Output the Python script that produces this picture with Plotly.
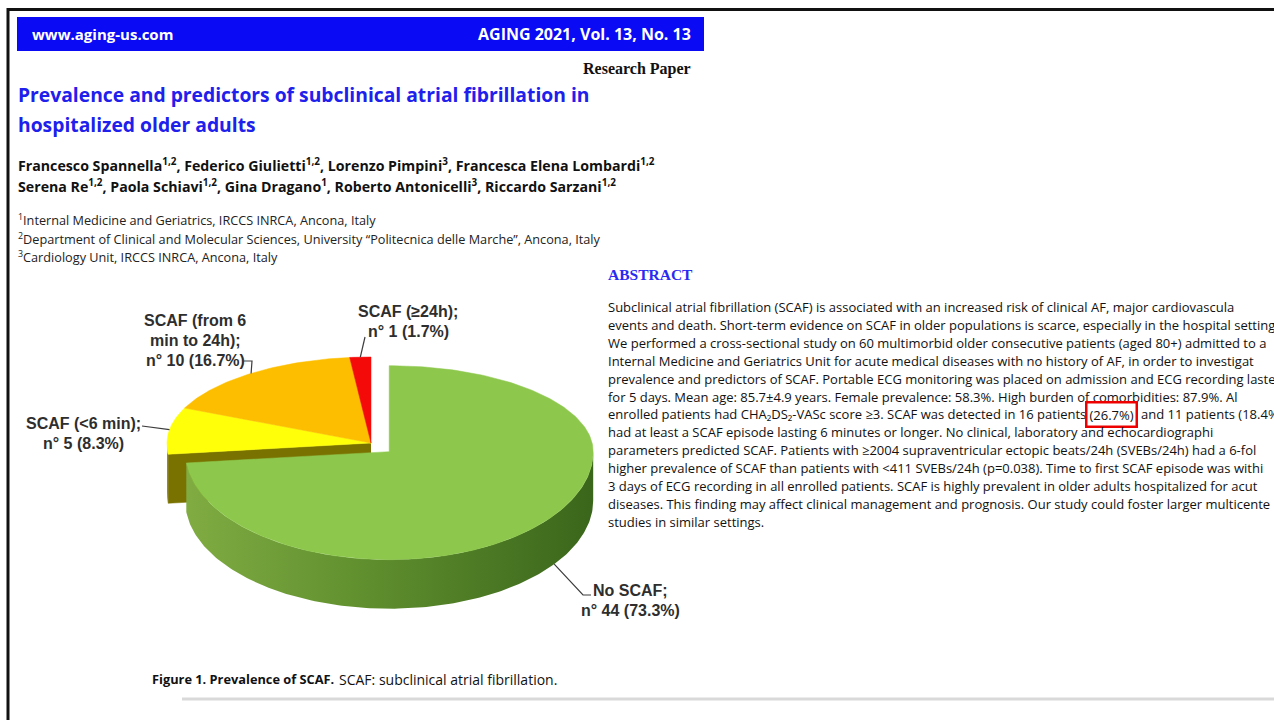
import numpy as np
import plotly.graph_objects as go

# ---------------- data ----------------
slice_names = ["No SCAF", "SCAF (<6 min)", "SCAF (from 6 min to 24h)", "SCAF (≥24h)"]
slice_counts = [44, 5, 10, 1]
slice_percents = [73.3, 8.3, 16.7, 1.7]
slice_label_heads = [["No SCAF;"], ["SCAF (<6 min);"], ["SCAF (from 6", "min to 24h);"], ["SCAF (≥24h);"]]

header_left = "www.aging-us.com"
header_right = "AGING 2021, Vol. 13, No. 13"
paper_type = "Research Paper"
title_lines = ["Prevalence and predictors of subclinical atrial fibrillation in",
               "hospitalized older adults"]
author_lines = [
    "Francesco Spannella<sup>1,2</sup>, Federico Giulietti<sup>1,2</sup>, Lorenzo Pimpini<sup>3</sup>, Francesca Elena Lombardi<sup>1,2</sup>",
    "Serena Re<sup>1,2</sup>, Paola Schiavi<sup>1,2</sup>, Gina Dragano<sup>1</sup>, Roberto Antonicelli<sup>3</sup>, Riccardo Sarzani<sup>1,2</sup>",
]
affiliation_lines = [
    "<sup>1</sup>Internal Medicine and Geriatrics, IRCCS INRCA, Ancona, Italy",
    "<sup>2</sup>Department of Clinical and Molecular Sciences, University “Politecnica delle Marche”, Ancona, Italy",
    "<sup>3</sup>Cardiology Unit, IRCCS INRCA, Ancona, Italy",
]
abstract_heading = "ABSTRACT"
abstract_lines = [
    "Subclinical atrial fibrillation (SCAF) is associated with an increased risk of clinical AF, major cardiovascula",
    "events and death. Short-term evidence on SCAF in older populations is scarce, especially in the hospital setting",
    "We performed a cross-sectional study on 60 multimorbid older consecutive patients (aged 80+) admitted to a",
    "Internal Medicine and Geriatrics Unit for acute medical diseases with no history of AF, in order to investigat",
    "prevalence and predictors of SCAF. Portable ECG monitoring was placed on admission and ECG recording laste",
    "for 5 days. Mean age: 85.7±4.9 years. Female prevalence: 58.3%. High burden of comorbidities: 87.9%. Al",
    None,
    "had at least a SCAF episode lasting 6 minutes or longer. No clinical, laboratory and echocardiographi",
    "parameters predicted SCAF. Patients with ≥2004 supraventricular ectopic beats/24h (SVEBs/24h) had a 6-fol",
    "higher prevalence of SCAF than patients with <411 SVEBs/24h (p=0.038). Time to first SCAF episode was withi",
    "3 days of ECG recording in all enrolled patients. SCAF is highly prevalent in older adults hospitalized for acut",
    "diseases. This finding may affect clinical management and prognosis. Our study could foster larger multicente",
    "studies in similar settings.",
]
highlight_before = "enrolled patients had CHA₂DS₂-VASc score ≥3. SCAF was detected in 16 patients"
highlight_text = "(26.7%)"
highlight_after = "and 11 patients (18.4%"
caption_bold = "Figure 1. Prevalence of SCAF."
caption_rest = "SCAF: subclinical atrial fibrillation."

# ---------------- style / geometry ----------------
W, H = 1274, 720
CX, CY = 371.0, 443.0
RX, RY_TOP, RY_BOT, DEPTH = 204.0, 86.0, 108.0, 49.0
EXPLODE = [0.12, 0.0, 0.0, 0.0]
TOP_COLORS = ["#8DC84C", "#FFFF0A", "#FDBE00", "#F50A0A"]
WALL_COLORS = [("#80AC42", "#3A661B"), ("#A09C00", "#858000"), ("#B07F00", "#9A6E00"), ("#A00000", "#800000")]
FACE_COLORS = ["#4E7A22", "#7A7200", "#A87000", "#900000"]
LEADER_COLOR = "#3c3c3c"
LABEL_FONT = dict(family="Liberation Sans, Arial", size=16, color="#2e2e2e", weight="bold")
SANS = "Open Sans, sans-serif"
SERIF = "Liberation Serif, Times New Roman, serif"

fig = go.Figure()


def pt(theta, ox, oy, z=0.0):
    t = np.radians(theta)
    s = np.sin(t)
    ry = RY_TOP if s > 0 else RY_BOT
    return CX + ox + RX * np.cos(t), CY + oy - ry * s + z


def arc(t1, t2, ox, oy, z=0.0):
    n = max(2, int(abs(t2 - t1) / 1.0) + 2)
    pts = [pt(t, ox, oy, z) for t in np.linspace(t1, t2, n)]
    return [p[0] for p in pts], [p[1] for p in pts]


def add_poly(xs, ys, color, lw=0.6, gradient=None):
    kw = {}
    if gradient is not None:
        kw["fillgradient"] = gradient
    fig.add_trace(go.Scatter(x=list(xs), y=list(ys), fill="toself", fillcolor=color, mode="lines",
                             line=dict(color=color, width=lw), hoverinfo="skip", showlegend=False, **kw))


total = float(sum(slice_counts))
cum = np.concatenate([[0.0], np.cumsum(slice_counts) / total])
t_start = [90.0 - 360.0 * cum[i] for i in range(len(slice_counts))]
t_end = [90.0 - 360.0 * cum[i + 1] for i in range(len(slice_counts))]
mids = [(a + b) / 2 for a, b in zip(t_start, t_end)]
offsets = []
for i, m in enumerate(mids):
    r = np.radians(m)
    s = np.sin(r)
    ry = RY_TOP if s > 0 else RY_BOT
    offsets.append((EXPLODE[i] * RX * np.cos(r), -EXPLODE[i] * ry * s))

n = len(slice_counts)


def draw_slice(i):
    ox, oy = offsets[i]
    a, b = t_end[i], t_start[i]
    # outer wall (front-facing part), horizontal shading
    for k in (-1, 0, 1):
        lo, hi = max(a, -180 + 360 * k), min(b, 360 * k)
        if hi > lo:
            xt, yt = arc(lo, hi, ox, oy, 0)
            xb, yb = arc(hi, lo, ox, oy, DEPTH)
            c1, c2 = WALL_COLORS[i]
            grad = dict(type="horizontal", start=CX + ox - RX, stop=CX + ox + RX,
                        colorscale=[[0, c1], [0.45, c1 if i else "#5F8E2E"], [1, c2]])
            add_poly(xt + xb, yt + yb, c2, lw=0, gradient=grad)
    # radial faces next to an exploded gap
    for edge, nb, sign in ((b, (i - 1) % n, -1), (a, (i + 1) % n, 1)):
        if EXPLODE[i] == EXPLODE[nb]:
            continue
        c = np.cos(np.radians(edge))
        visible = (sign == -1 and c < -1e-6) or (sign == 1 and c > 1e-6)
        if visible:
            x1, y1 = pt(edge, ox, oy, 0)
            x2, y2 = pt(edge, ox, oy, DEPTH)
            ax, ay = CX + ox, CY + oy
            add_poly([ax, x1, x2, ax], [ay, y1, y2, ay + DEPTH], FACE_COLORS[i], lw=0.5)
    # top face
    xs, ys = arc(b, a, ox, oy, 0)
    add_poly([CX + ox] + xs + [CX + ox], [CY + oy] + ys + [CY + oy], TOP_COLORS[i], lw=0.5)


order = [i for i in range(n) if EXPLODE[i] == 0] + [i for i in range(n) if EXPLODE[i] != 0]
for i in order:
    draw_slice(i)

# ---------------- slice labels with leader lines ----------------
label_x = [630, 83, 195, 408]
label_first_y = [590, 423, 320, 311]
LABEL_LINE_GAP = 20
leader_mid = [(583, 595), (142, 426), (252, 361), (365, 337)]
leader_end = [(591, 595), None, (244, 361), None]
for i in range(n):
    ox, oy = offsets[i]
    m = mids[i] + (6 if EXPLODE[i] else 0)
    z = DEPTH if np.sin(np.radians(m)) < 0 else 0
    ax, ay = pt(m, ox, oy, z)
    xs, ys = [ax, leader_mid[i][0]], [ay, leader_mid[i][1]]
    if leader_end[i] is not None:
        xs.append(leader_end[i][0]); ys.append(leader_end[i][1])
    fig.add_trace(go.Scatter(x=xs, y=ys, mode="lines", line=dict(color=LEADER_COLOR, width=1.2),
                             hoverinfo="skip", showlegend=False))
    lines = slice_label_heads[i] + [f"n° {slice_counts[i]} ({slice_percents[i]}%)"]
    for j, line in enumerate(lines):
        fig.add_annotation(x=label_x[i], y=label_first_y[i] + LABEL_LINE_GAP * j, text=line,
                           showarrow=False, xanchor="center", yanchor="middle", font=LABEL_FONT)

# ---------------- page texts ----------------
anns = []
anns.append(dict(x=30, y=34, text=header_left, xanchor="left",
                 font=dict(family=SANS, size=15, color="white", weight="bold")))
anns.append(dict(x=693, y=34, text=header_right, xanchor="right",
                 font=dict(family=SANS, size=16, color="white", weight="bold")))
anns.append(dict(x=693, y=69, text=paper_type, xanchor="right",
                 font=dict(family=SERIF, size=16, color="#111111", weight="bold")))
for k, t in enumerate(title_lines):
    anns.append(dict(x=16, y=94 + 30 * k, text=t, xanchor="left",
                     font=dict(family=SANS, size=19.3, color="#2020EC", weight="bold")))
for k, t in enumerate(author_lines):
    anns.append(dict(x=16, y=164 + 21 * k, text=t, xanchor="left",
                     font=dict(family=SANS, size=14.2, color="#111111", weight="bold")))
for k, t in enumerate(affiliation_lines):
    anns.append(dict(x=16, y=220 + 18.5 * k, text=t, xanchor="left",
                     font=dict(family=SANS, size=12.7, color="#222222")))
anns.append(dict(x=606, y=274, text=abstract_heading, xanchor="left",
                 font=dict(family=SERIF, size=15.5, color="#2a2af0", weight="bold")))
ABS_FONT = dict(family=SANS, size=13, color="#111111")
for k, t in enumerate(abstract_lines):
    y = 307 + 17.9 * k
    if t is None:
        anns.append(dict(x=606, y=y, text=highlight_before, xanchor="left", font=ABS_FONT))
        anns.append(dict(x=1111, y=y, text=highlight_text, xanchor="center", font=ABS_FONT,
                         bordercolor="#EE0000", borderwidth=2.5, borderpad=2))
        anns.append(dict(x=1139, y=y, text=highlight_after, xanchor="left", font=ABS_FONT))
    else:
        anns.append(dict(x=606, y=y, text=t, xanchor="left", font=ABS_FONT))
anns.append(dict(x=150, y=679, text=caption_bold, xanchor="left",
                 font=dict(family=SANS, size=12.8, color="#111111", weight="bold")))
anns.append(dict(x=337, y=679, text=caption_rest, xanchor="left",
                 font=dict(family=SANS, size=14, color="#111111")))
for a in anns:
    a.setdefault("yanchor", "middle")
    fig.add_annotation(showarrow=False, **a)

# ---------------- page decorations ----------------
shapes = [
    dict(type="rect", x0=17, x1=704, y0=17, y1=51, fillcolor="#0A0AF5", line=dict(width=0), layer="below"),
    dict(type="line", x0=7, x1=W, y0=9.5, y1=9.5, line=dict(color="#111111", width=3)),
    dict(type="line", x0=8, x1=8, y0=8, y1=H, line=dict(color="#111111", width=3)),
    dict(type="line", x0=182, x1=W, y0=699, y1=699, line=dict(color="#d9d9d9", width=3)),
]
for s in shapes:
    s.setdefault("xref", "x"); s.setdefault("yref", "y")
    fig.add_shape(**s)

fig.update_layout(
    width=W, height=H, margin=dict(l=0, r=0, t=0, b=0),
    paper_bgcolor="white", plot_bgcolor="white", showlegend=False,
    xaxis=dict(range=[0, W], visible=False, fixedrange=True),
    yaxis=dict(range=[H, 0], visible=False, fixedrange=True),
)
fig.write_html("out.html")
